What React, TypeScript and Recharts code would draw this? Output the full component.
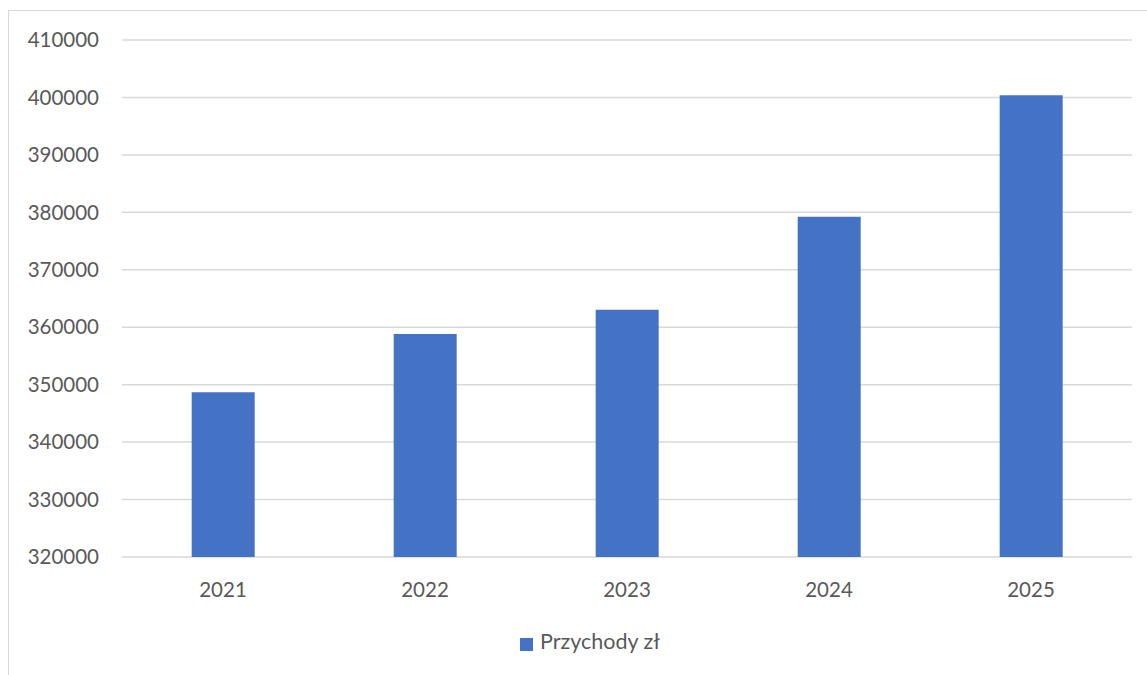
import React from "react";
import { BarChart, Bar, XAxis, YAxis, CartesianGrid, Legend } from "recharts";

const years = ["2021", "2022", "2023", "2024", "2025"];
const revenue = [348700, 358800, 363050, 379250, 400400];
const yTicks = [320000, 330000, 340000, 350000, 360000, 370000, 380000, 390000, 400000, 410000];
const seriesName = "Przychody zł";

const data = years.map((y, i) => ({ year: y, value: revenue[i] }));

const FONT = "Lato, 'Open Sans', sans-serif";
const TEXT = "#595959";

export default function App() {
  return (
    <div
      style={{
        position: "fixed",
        left: 0,
        top: 0,
        width: 1147,
        height: 675,
        overflow: "hidden",
        background: "#ffffff",
        fontFamily: FONT,
      }}
    >
      <div
        style={{
          position: "absolute",
          left: 8,
          top: 10,
          width: 1250,
          height: 800,
          border: "1.5px solid #d9d9d9",
        }}
      />
      <div style={{ position: "absolute", left: 0, top: 0 }}>
        <BarChart
          width={1147}
          height={675}
          data={data}
          margin={{ top: 40, right: 15, left: 0, bottom: 21 }}
          barCategoryGap="34.5%"
        >
          <CartesianGrid vertical={false} stroke="#d9d9d9" strokeWidth={1.5} />
          <XAxis
            dataKey="year"
            axisLine={false}
            tickLine={false}
            tickMargin={19}
            height={71}
            tick={{ fill: TEXT, fontSize: 20.5, fontFamily: FONT }}
          />
          <YAxis
            domain={[320000, 410000]}
            ticks={yTicks}
            interval={0}
            axisLine={false}
            tickLine={false}
            tickMargin={17}
            width={122}
            tick={{ fill: TEXT, fontSize: 20.5, fontFamily: FONT }}
            allowDataOverflow
          />
          <Legend
            verticalAlign="bottom"
            align="center"
            iconType="square"
            iconSize={13}
            wrapperStyle={{ left: 29 }}
            formatter={(v) => (
              <span style={{ color: TEXT, fontSize: 21.5, fontFamily: FONT, paddingLeft: 3 }}>{v}</span>
            )}
          />
          <Bar
            dataKey="value"
            name={seriesName}
            fill="#4472C4"
            isAnimationActive={false}
          />
        </BarChart>
      </div>
    </div>
  );
}
